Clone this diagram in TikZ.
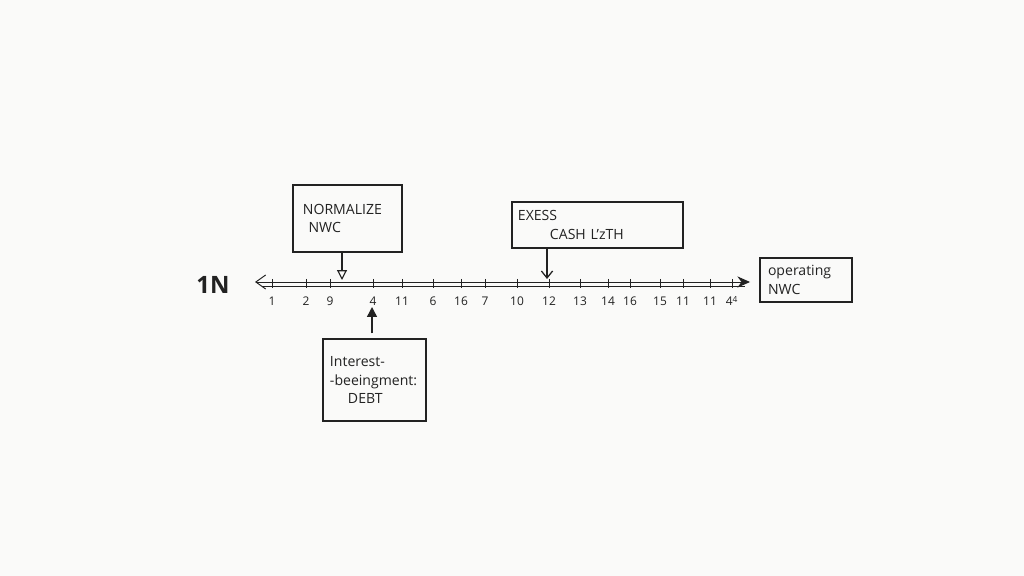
\documentclass[tikz,border=0pt]{standalone}
\usepackage{fontspec}
\setmainfont{Open Sans}
\usetikzlibrary{arrows.meta,calc,positioning}
\definecolor{ink}{HTML}{222222}
\definecolor{paper}{HTML}{FAFAF9}
\tikzset{
    box/.style ={draw, rectangle, align=left, inner ysep=0pt, line width=0.8pt,
                 font=\fontsize{10}{13}\selectfont},
    tick/.style ={inner sep=1pt, font=\fontsize{8.5}{10}\selectfont},
    pointer/.style ={-{Triangle[open,length=7pt,width=7pt]}, line width=0.8pt},
    barb/.style ={-{Straight Barb[length=5pt,width=8pt]}, line width=0.9pt},
    lift/.style ={-{Triangle[length=7pt,width=7pt]}, line width=1pt}
}
\begin{document}
\begin{tikzpicture}[x=0.025cm,y=-0.025cm,color=ink,line width=0.7pt]
    \fill[paper] (0,0) rectangle (1024,576);
    \useasboundingbox (0,0) rectangle (1024,576);

    % axis
    \node[font=\fontsize{17}{17}\selectfont\bfseries] (title) at (213,285) {1N};
    \coordinate (axl) at (255,282);
    \coordinate (axr) at (750,282);
    \draw[{Straight Barb[length=7pt,width=10pt]}-{Stealth[length=9pt,width=8pt]}] (axl) -- (axr);
    \draw[thin] ($(axl)+(7,4)$) -- ($(axr)+(-5,4)$);
    \foreach \x/\t [count=\i] in {272/1,306/2,330/9,373/4,402/11,433/6,461/16,485/7,
        517/10,549/12,580/13,608/14,630/16,660/15,683/11,710/11,732/4\textsuperscript{4}}{
        \draw (\x,279) -- (\x,288);
        \node[tick] (t\i) at (\x,301) {\t};
    }

    % boxes
    \node[box, minimum width=2.725cm, minimum height=1.675cm, text width=2.225cm,
          inner xsep=0.25cm] (norm) at (347.5,218.5) {NORMALIZE\\\hspace*{4pt}NWC};
    \node[box, minimum width=4.275cm, minimum height=1.15cm, text width=3.975cm,
          inner xsep=0.15cm] (cash) at (597.5,225) {EXESS\\\hspace*{0.8cm}CASH L'zTH};
    \node[box, minimum width=2.3cm, minimum height=1.1cm, text width=1.9cm,
          inner xsep=0.2cm] (oper) at (806,280) {operating\\NWC};
    \node[box, minimum width=2.575cm, minimum height=2.05cm, text width=2.225cm,
          inner xsep=0.175cm] (debt) at (374.5,380) {Interest-\\-beeingment:\\\hspace*{0.45cm}DEBT};

    % pointers
    \coordinate (na) at (342,280);
    \coordinate (ca) at (547,279);
    \coordinate (da) at (372,307);
    \draw[pointer] (norm.south -| na) -- (na);
    \draw[barb] (cash.south -| ca) -- (ca);
    \draw[lift, shorten <=0.125cm] (debt.north -| da) -- (da);
\end{tikzpicture}
\end{document}
